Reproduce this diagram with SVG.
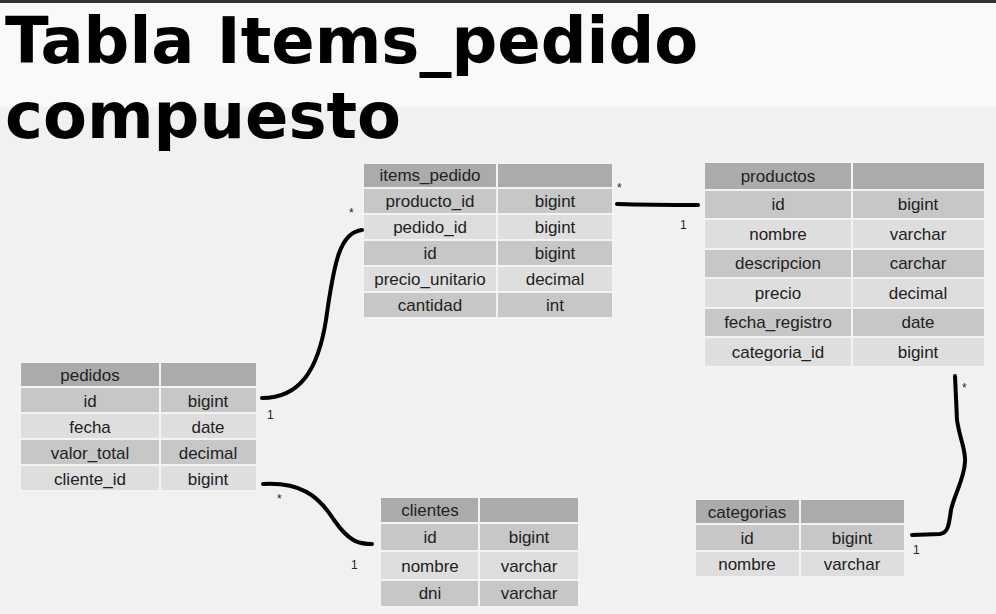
<svg xmlns="http://www.w3.org/2000/svg" width="996" height="614" viewBox="0 0 996 614">
<style>
.h{fill:#ababab;stroke:#f3f3f3;stroke-width:2}
.m{fill:#c7c7c7;stroke:#f3f3f3;stroke-width:2}
.l{fill:#dedede;stroke:#f3f3f3;stroke-width:2}
.t{font-family:"Liberation Sans",Arial,sans-serif;font-size:17px;fill:#222;text-anchor:middle}
.title{font-family:"DejaVu Sans",sans-serif;font-weight:bold;font-size:64px;fill:#000}
.c{fill:none;stroke:#000;stroke-width:4;stroke-linecap:round;stroke-linejoin:round}
.lab{font-family:"Liberation Sans",Arial,sans-serif;font-size:12px;fill:#222}
</style>
<rect width="996" height="614" fill="#f1f1f1"/>
<rect y="3" width="996" height="104" fill="#f9f9f9"/>
<rect width="996" height="3" fill="#333"/>
<text class="title" x="5" y="63">Tabla Items_pedido</text>
<text class="title" x="5" y="138">compuesto</text>

<g id="items_pedido">
<rect class="h" x="363" y="163" width="134" height="25"/><rect class="h" x="497" y="163" width="116" height="25"/>
<rect class="m" x="363" y="188" width="134" height="26"/><rect class="m" x="497" y="188" width="116" height="26"/>
<rect class="l" x="363" y="214" width="134" height="26"/><rect class="l" x="497" y="214" width="116" height="26"/>
<rect class="m" x="363" y="240" width="134" height="26"/><rect class="m" x="497" y="240" width="116" height="26"/>
<rect class="l" x="363" y="266" width="134" height="26"/><rect class="l" x="497" y="266" width="116" height="26"/>
<rect class="m" x="363" y="292" width="134" height="26"/><rect class="m" x="497" y="292" width="116" height="26"/>
<text class="t" x="430" y="181">items_pedido</text>
<text class="t" x="430" y="207">producto_id</text><text class="t" x="555" y="207">bigint</text>
<text class="t" x="430" y="233">pedido_id</text><text class="t" x="555" y="233">bigint</text>
<text class="t" x="430" y="259">id</text><text class="t" x="555" y="259">bigint</text>
<text class="t" x="430" y="285">precio_unitario</text><text class="t" x="555" y="285">decimal</text>
<text class="t" x="430" y="311">cantidad</text><text class="t" x="555" y="311">int</text>
</g>

<g id="productos">
<rect class="h" x="704" y="162" width="148" height="28"/><rect class="h" x="852" y="162" width="133" height="28"/>
<rect class="m" x="704" y="190" width="148" height="29"/><rect class="m" x="852" y="190" width="133" height="29"/>
<rect class="l" x="704" y="219" width="148" height="30"/><rect class="l" x="852" y="219" width="133" height="30"/>
<rect class="m" x="704" y="249" width="148" height="29"/><rect class="m" x="852" y="249" width="133" height="29"/>
<rect class="l" x="704" y="278" width="148" height="30"/><rect class="l" x="852" y="278" width="133" height="30"/>
<rect class="m" x="704" y="308" width="148" height="29"/><rect class="m" x="852" y="308" width="133" height="29"/>
<rect class="l" x="704" y="337" width="148" height="30"/><rect class="l" x="852" y="337" width="133" height="30"/>
<text class="t" x="778" y="182">productos</text>
<text class="t" x="778" y="210">id</text><text class="t" x="918" y="210">bigint</text>
<text class="t" x="778" y="240">nombre</text><text class="t" x="918" y="240">varchar</text>
<text class="t" x="778" y="269">descripcion</text><text class="t" x="918" y="269">carchar</text>
<text class="t" x="778" y="299">precio</text><text class="t" x="918" y="299">decimal</text>
<text class="t" x="778" y="328">fecha_registro</text><text class="t" x="918" y="328">date</text>
<text class="t" x="778" y="358">categoria_id</text><text class="t" x="918" y="358">bigint</text>
</g>

<g id="pedidos">
<rect class="h" x="20" y="362" width="140" height="25"/><rect class="h" x="160" y="362" width="97" height="25"/>
<rect class="m" x="20" y="387" width="140" height="26"/><rect class="m" x="160" y="387" width="97" height="26"/>
<rect class="l" x="20" y="413" width="140" height="26"/><rect class="l" x="160" y="413" width="97" height="26"/>
<rect class="m" x="20" y="439" width="140" height="26"/><rect class="m" x="160" y="439" width="97" height="26"/>
<rect class="l" x="20" y="465" width="140" height="26"/><rect class="l" x="160" y="465" width="97" height="26"/>
<text class="t" x="90" y="381">pedidos</text>
<text class="t" x="90" y="407">id</text><text class="t" x="208" y="407">bigint</text>
<text class="t" x="90" y="433">fecha</text><text class="t" x="208" y="433">date</text>
<text class="t" x="90" y="459">valor_total</text><text class="t" x="208" y="459">decimal</text>
<text class="t" x="90" y="485">cliente_id</text><text class="t" x="208" y="485">bigint</text>
</g>

<g id="clientes">
<rect class="h" x="380" y="497" width="99" height="26"/><rect class="h" x="479" y="497" width="100" height="26"/>
<rect class="m" x="380" y="523" width="99" height="28"/><rect class="m" x="479" y="523" width="100" height="28"/>
<rect class="l" x="380" y="551" width="99" height="29"/><rect class="l" x="479" y="551" width="100" height="29"/>
<rect class="m" x="380" y="580" width="99" height="27"/><rect class="m" x="479" y="580" width="100" height="27"/>
<text class="t" x="430" y="516">clientes</text>
<text class="t" x="430" y="543">id</text><text class="t" x="529" y="543">bigint</text>
<text class="t" x="430" y="572">nombre</text><text class="t" x="529" y="572">varchar</text>
<text class="t" x="430" y="599">dni</text><text class="t" x="529" y="599">varchar</text>
</g>

<g id="categorias">
<rect class="h" x="695" y="499" width="105" height="25"/><rect class="h" x="800" y="499" width="105" height="25"/>
<rect class="m" x="695" y="524" width="105" height="27"/><rect class="m" x="800" y="524" width="105" height="27"/>
<rect class="l" x="695" y="551" width="105" height="26"/><rect class="l" x="800" y="551" width="105" height="26"/>
<text class="t" x="747" y="518">categorias</text>
<text class="t" x="747" y="544">id</text><text class="t" x="852" y="544">bigint</text>
<text class="t" x="747" y="570">nombre</text><text class="t" x="852" y="570">varchar</text>
</g>

<g id="connectors">
<path class="c" d="M617,204 C650,205 680,205 698,205"/>
<path class="c" d="M262,398 C300,398 318,370 326,320 C334,262 340,232 362,230"/>
<path class="c" d="M263,484 C300,482 318,495 334,520 C350,543 360,544 372,544"/>
<path class="c" d="M955,376 L957,420 C960,440 966,450 965,462 C964,480 954,495 951,510 C949,525 948,533 940,534 L912,535"/>
<text class="lab" x="617" y="192">*</text><text class="lab" x="680" y="229">1</text>
<text class="lab" x="349" y="217">*</text><text class="lab" x="267" y="419">1</text>
<text class="lab" x="277" y="503">*</text><text class="lab" x="351" y="569">1</text>
<text class="lab" x="962" y="392">*</text><text class="lab" x="913" y="554">1</text>
</g>
</svg>
